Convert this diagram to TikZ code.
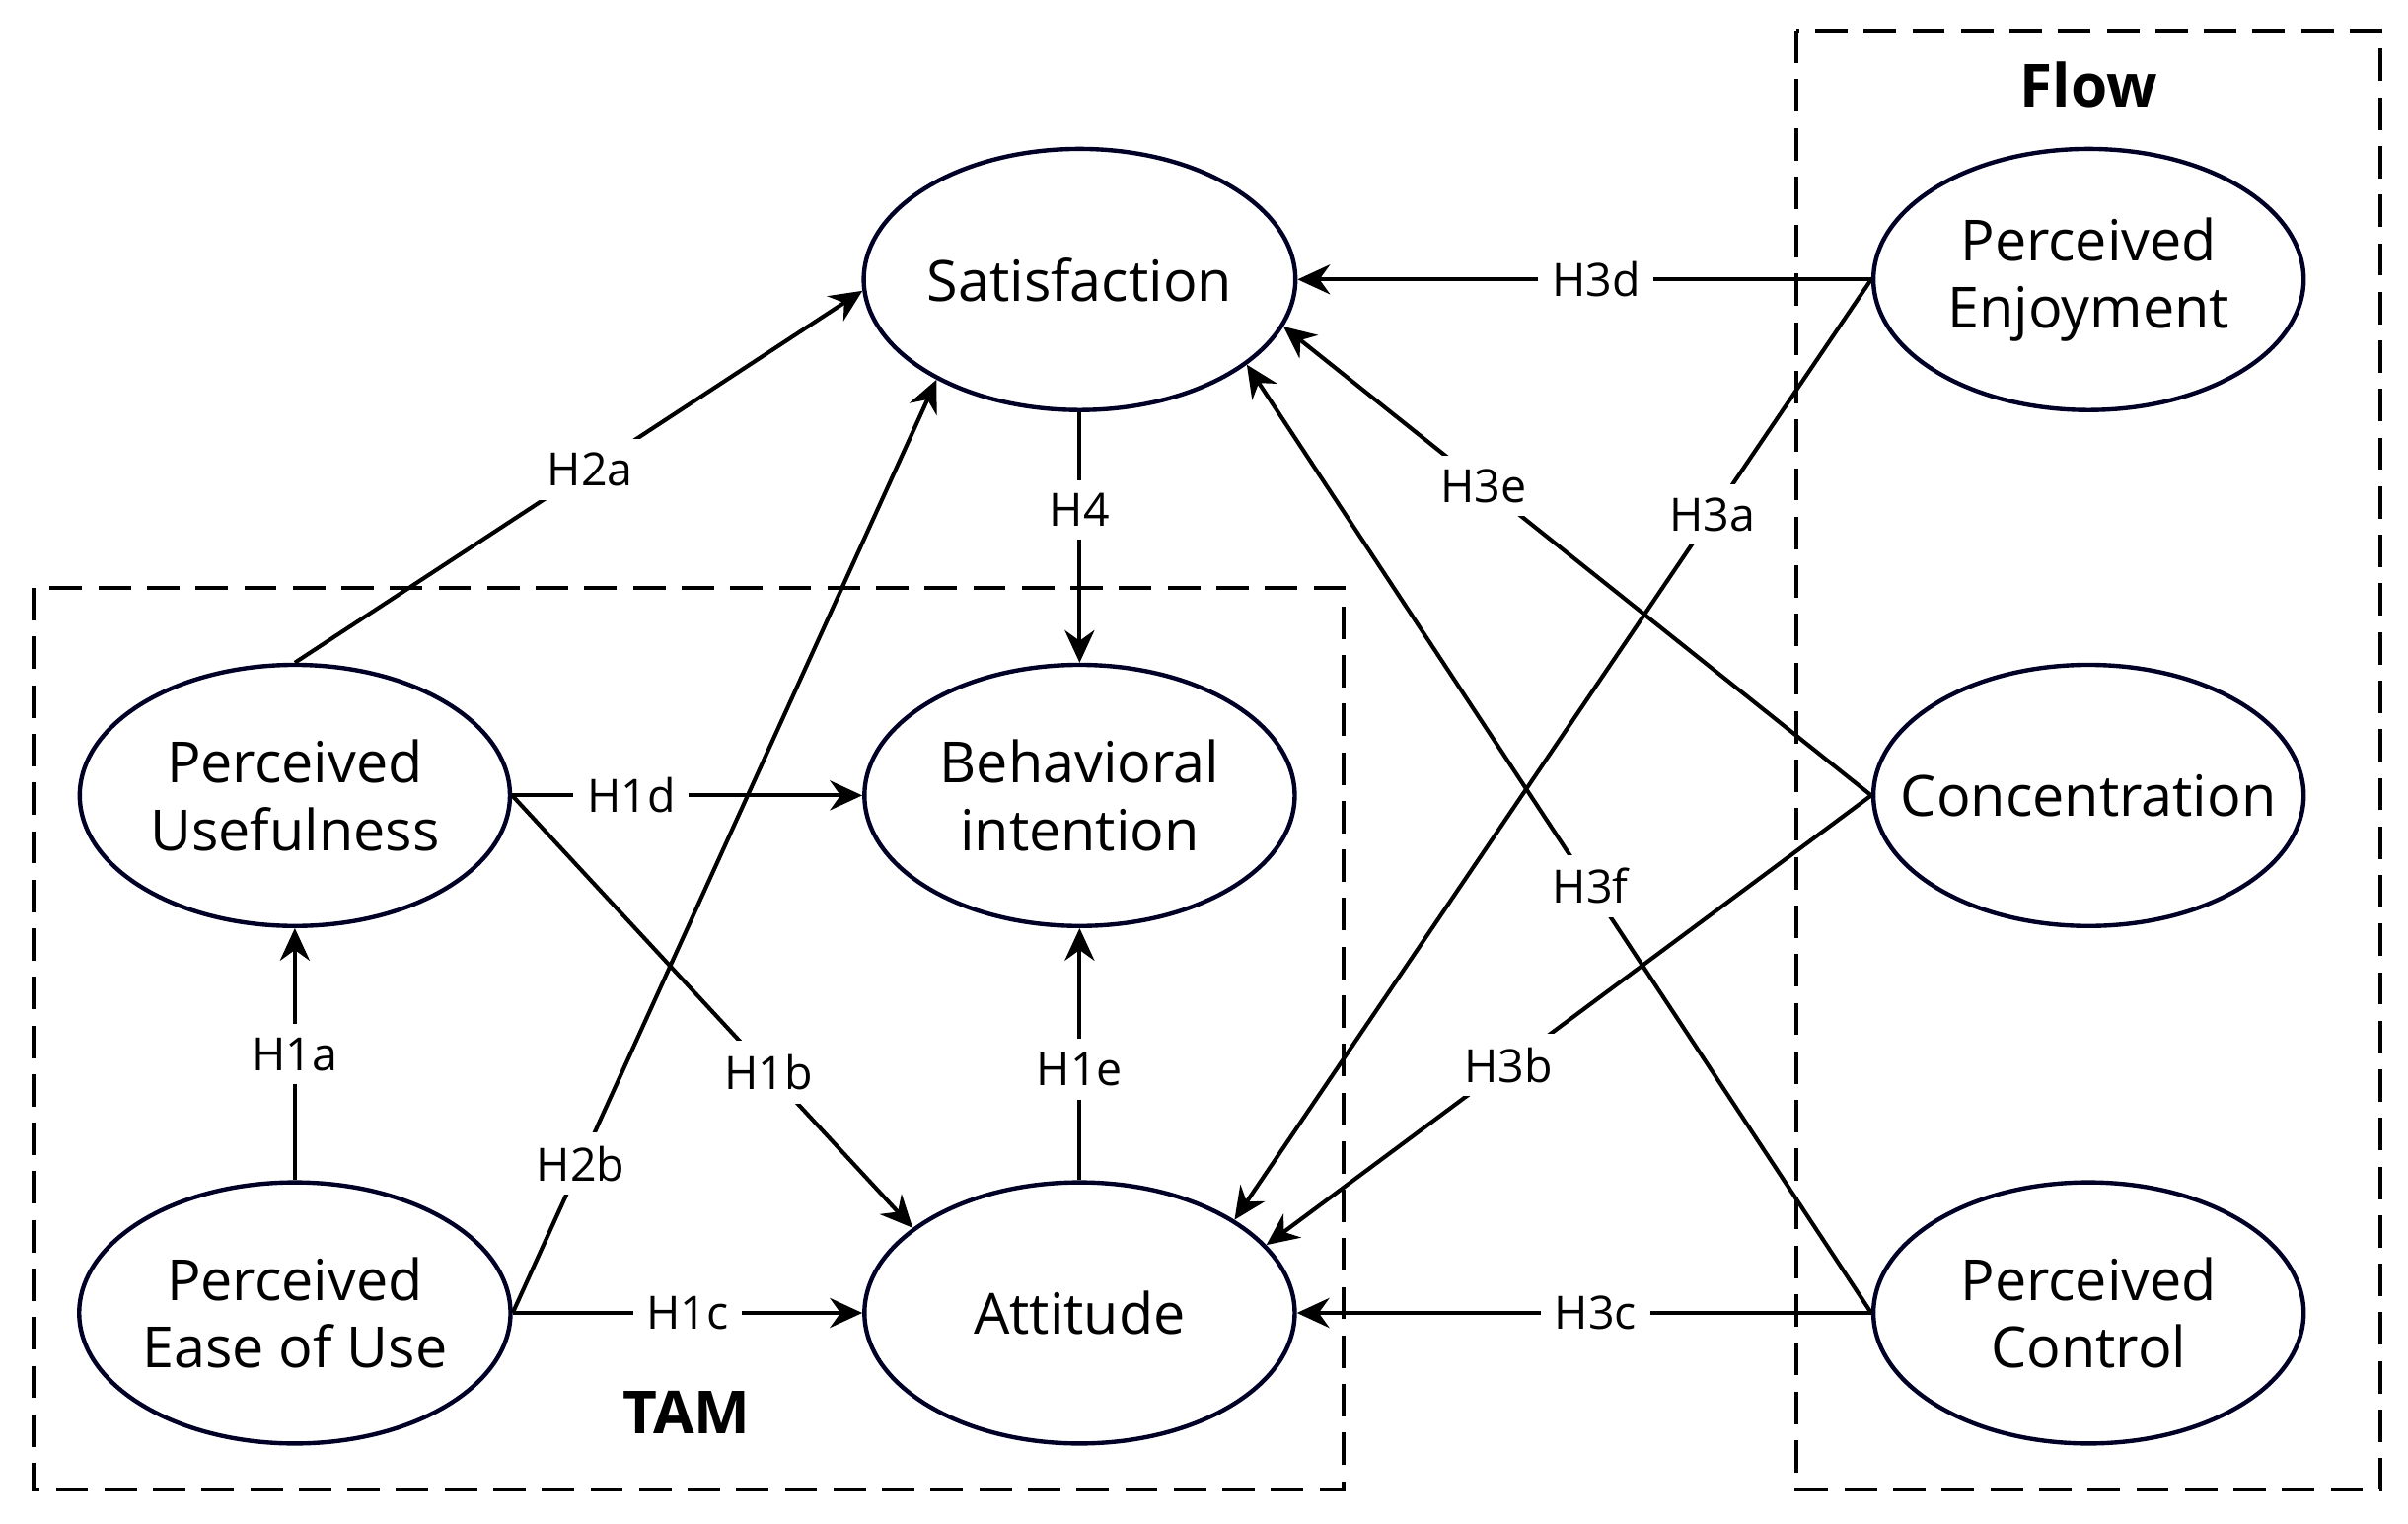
\documentclass[tikz,border=0pt]{standalone}
\usepackage{fontspec}
\setmainfont{Open Sans}
\usetikzlibrary{shapes.geometric,arrows.meta}
\begin{document}
\begin{tikzpicture}[x=0.01cm,y=-0.01cm,
  el/.style={ellipse,draw=black!85!blue,line width=0.8pt,minimum width=2.8cm,minimum height=1.7cm,inner sep=0pt,align=center,font=\fontsize{10.5}{12.5}\selectfont},
  ar/.style={-{Stealth[length=6pt,width=5.5pt]},line width=0.75pt},
  lb/.style={fill=white,inner sep=2.5pt,font=\fontsize{8.5}{10}\selectfont},
  box/.style={draw,dashed,dash pattern=on 6pt off 3pt,line width=0.7pt}]
\useasboundingbox (0,0) rectangle (1568,992);
\draw[box] (22,383) rectangle (875,970);
\draw[box] (1170,20) rectangle (1550,970);
\node[font=\bfseries\fontsize{11}{13}\selectfont] (tam) at (447,920) {TAM};
\node[font=\bfseries\fontsize{11}{13}\selectfont] (flow) at (1360,55) {Flow};
\node[el] (sat) at (703,182) {Satisfaction};
\node[el] (bi) at (703,518) {Behavioral\\intention};
\node[el] (att) at (703,855) {Attitude};
\node[el] (pu) at (192,518) {Perceived\\Usefulness};
\node[el] (peou) at (192,855) {Perceived\\Ease of Use};
\node[el] (pe) at (1360,182) {Perceived\\Enjoyment};
\node[el,inner xsep=-12pt] (con) at (1360,518) {Concentration};
\node[el] (pc) at (1360,855) {Perceived\\Control};
\draw[ar] (pu.north) -- node[lb,pos=0.52]{H2a} (sat.183);
\draw[ar] (peou.east) -- node[lb,pos=0.16]{H2b} (sat.215);
\draw[ar] (pu.east) -- node[lb,pos=0.64]{H1b} (att.153);
\draw[ar] (peou.north) -- node[lb,pos=0.5]{H1a} (pu.south);
\draw[ar] (peou.east) -- node[lb,pos=0.5]{H1c} (att.west);
\draw[ar] (pu.east) -- node[lb,pos=0.34]{H1d} (bi.west);
\draw[ar] (att.north) -- node[lb,pos=0.44]{H1e} (bi.south);
\draw[ar] (sat.south) -- node[lb,pos=0.39]{H4} (bi.north);
\draw[ar] (pe.west) -- node[lb,pos=0.48]{H3d} (sat.east);
\draw[ar] (pc.west) -- node[lb,pos=0.48]{H3c} (att.east);
\draw[ar] (pe.west) -- node[lb,pos=0.25]{H3a} (att.31);
\draw[ar] (con.west) -- node[lb,pos=0.66]{H3e} (sat.347);
\draw[ar] (con.west) -- node[lb,pos=0.60]{H3b} (att.20);
\draw[ar] (pc.west) -- node[lb,pos=0.45]{H3f} (sat.333);
\end{tikzpicture}
\end{document}
